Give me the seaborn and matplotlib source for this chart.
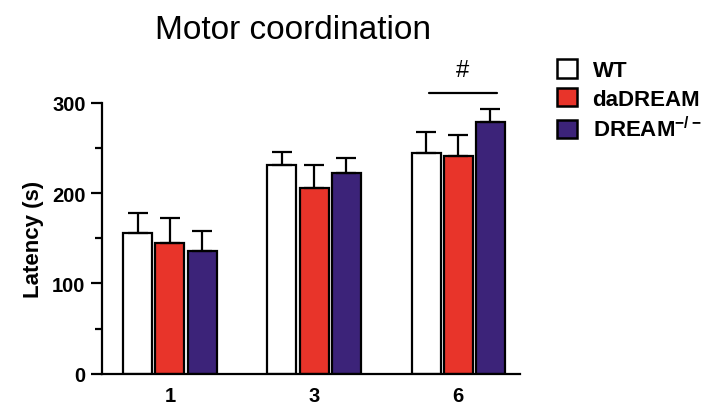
import numpy as np
import pandas as pd
import matplotlib
matplotlib.use("Agg")
import matplotlib.pyplot as plt
import seaborn as sns
from matplotlib.patches import Patch

# Data
timepoints = ["1", "3", "6"]
groups = ["WT", "daDREAM", r"DREAM$^{\mathbf{-/-}}$"]
wt_mean = [156, 231, 244]
wt_err = [22, 15, 24]
da_mean = [145, 206, 241]
da_err = [28, 25, 24]
ko_mean = [136, 222, 279]
ko_err = [22, 17, 14]

colors = ["#ffffff", "#e8342a", "#3c2379"]

df = pd.DataFrame({
    "time": timepoints * 3,
    "group": [g for g in groups for _ in timepoints],
    "latency": wt_mean + da_mean + ko_mean,
    "err": wt_err + da_err + ko_err,
})

sns.set_style("ticks", {"axes.edgecolor": "black", "text.color": "black",
                        "xtick.color": "black", "ytick.color": "black",
                        "axes.labelcolor": "black"})
plt.rcParams["font.family"] = ["Liberation Sans", "DejaVu Sans"]
plt.rcParams["mathtext.fontset"] = "custom"
plt.rcParams["mathtext.bf"] = "Liberation Sans:bold"
plt.rcParams["mathtext.rm"] = "Liberation Sans"

fig = plt.figure(figsize=(7.05, 4.06), dpi=100)
ax = fig.add_axes([0.145, 0.077, 0.593, 0.667])

sns.barplot(data=df, x="time", y="latency", hue="group", order=timepoints,
            hue_order=groups, palette=colors, saturation=1, width=0.67, gap=0.1,
            edgecolor="black", linewidth=1.6, errorbar=None, legend=False, ax=ax)

# one-sided error bars on top of each bar
for patch_set, g in zip(ax.containers, groups):
    sub = df[df["group"] == g].set_index("time").loc[timepoints]
    xs = [p.get_x() + p.get_width() / 2 for p in patch_set]
    ax.errorbar(xs, sub["latency"], yerr=[np.zeros(len(xs)), sub["err"]],
                fmt="none", ecolor="black", elinewidth=1.6, capsize=7, capthick=1.6)

ax.set_ylim(0, 300)
ax.set_xlim(-0.47, 2.43)
ax.set_yticks([0, 100, 200, 300])
ax.set_yticks([50, 150, 250], minor=True)
ax.tick_params(axis="y", which="major", length=8, width=1.6, labelsize=14.5, pad=4)
ax.tick_params(axis="y", which="minor", length=5, width=1.6)
ax.tick_params(axis="x", length=0, labelsize=14.5, pad=9)
for lbl in ax.get_xticklabels() + ax.get_yticklabels():
    lbl.set_fontweight("bold")
ax.set_xlabel("")
ax.set_ylabel("Latency (s)", fontsize=16, fontweight="bold", labelpad=6)
for s in ["left", "bottom"]:
    ax.spines[s].set_linewidth(1.6)
sns.despine(ax=ax)

# significance marker over timepoint 6
ax.plot([1.795, 2.27], [311, 311], color="black", lw=1.6, clip_on=False)
ax.text(2.03, 336, "#", ha="center", va="center", fontsize=17)

fig.text(0.415, 0.926, "Motor coordination", ha="center", va="center", fontsize=24)

handles = [Patch(facecolor=c, edgecolor="black", linewidth=1.8, label=g)
           for c, g in zip(colors, groups)]
fig.legend(handles=handles, loc="upper left", bbox_to_anchor=(0.79, 0.852),
           frameon=False, prop={"weight": "bold", "size": 16}, borderpad=0,
           borderaxespad=0, handlelength=0.9, handleheight=0.9,
           handletextpad=0.7, labelspacing=0.3)

fig.savefig("out.png", dpi=100)
